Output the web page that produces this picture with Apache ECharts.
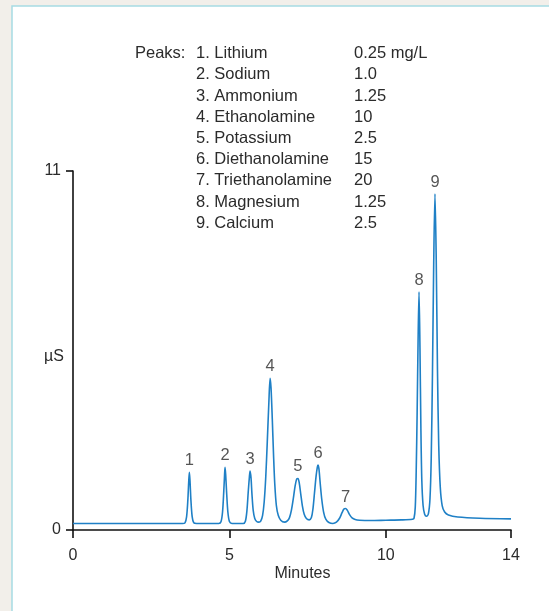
<!DOCTYPE html>
<html>
<head>
<meta charset="utf-8">
<script src="https://cdn.jsdelivr.net/npm/echarts@6/dist/echarts.min.js"></script>
<style>
html,body{margin:0;padding:0;background:#f2efea;}
#c{width:549px;height:611px;}
</style>
</head>
<body>
<div id="c"></div>
<script>
// ---- data ----
const xTicksMax = 14;            // minutes
const yMax = 11;                 // µS
const peakNumbers = ['1','2','3','4','5','6','7','8','9'];
const peakNames = ['Lithium','Sodium','Ammonium','Ethanolamine','Potassium','Diethanolamine','Triethanolamine','Magnesium','Calcium'];
const peakConc = ['0.25 mg/L','1.0','1.25','10','2.5','15','20','1.25','2.5'];
const peakTimes = [3.72, 4.86, 5.66, 6.30, 7.19, 7.83, 8.71, 11.06, 11.57];
const peakHeights = [1.77, 1.92, 1.81, 4.65, 1.58, 1.99, 0.66, 7.30, 10.3];
// chromatogram trace [minutes, µS]
const trace = [
 [0,0.2],[3.5,0.2],
 [3.58,0.22],[3.63,0.4],[3.67,0.9],[3.70,1.5],[3.72,1.77],[3.74,1.5],[3.77,0.9],[3.81,0.4],[3.86,0.22],[3.95,0.2],
 [4.66,0.2],[4.73,0.25],[4.78,0.55],[4.82,1.2],[4.845,1.7],[4.86,1.92],[4.88,1.7],[4.91,1.15],[4.95,0.55],[5.0,0.26],[5.08,0.2],
 [5.44,0.2],[5.51,0.27],[5.56,0.6],[5.60,1.15],[5.64,1.65],[5.66,1.81],[5.69,1.6],[5.72,1.1],[5.76,0.6],[5.81,0.35],[5.87,0.26],[5.94,0.24],
 [6.0,0.27],[6.06,0.45],[6.11,0.85],[6.16,1.6],[6.21,2.7],[6.26,3.9],[6.30,4.65],[6.33,4.35],[6.37,3.4],[6.41,2.3],[6.45,1.4],[6.50,0.75],[6.56,0.45],[6.64,0.3],[6.76,0.24],
 [6.85,0.28],[6.92,0.38],[6.98,0.6],[7.04,0.95],[7.10,1.35],[7.15,1.56],[7.19,1.58],[7.23,1.45],[7.28,1.1],[7.33,0.75],[7.39,0.48],[7.46,0.35],[7.55,0.31],
 [7.62,0.38],[7.67,0.65],[7.72,1.15],[7.77,1.65],[7.81,1.93],[7.83,1.99],[7.86,1.88],[7.90,1.45],[7.95,0.95],[8.01,0.55],[8.08,0.33],[8.18,0.23],[8.31,0.2],
 [8.42,0.24],[8.52,0.36],[8.60,0.53],[8.66,0.64],[8.71,0.66],[8.77,0.6],[8.84,0.47],[8.92,0.37],[9.02,0.32],[9.16,0.3],
 [9.5,0.29],[10.0,0.3],[10.5,0.31],[10.85,0.33],
 [10.9,0.36],[10.94,0.7],[10.97,1.8],[11.0,3.6],[11.03,5.8],[11.06,7.3],[11.09,5.6],[11.12,3.1],[11.15,1.5],[11.19,0.75],[11.24,0.48],[11.30,0.42],
 [11.36,0.5],[11.41,0.95],[11.45,2.2],[11.49,4.8],[11.53,8.2],[11.57,10.3],[11.61,8.3],[11.65,4.9],[11.69,2.6],[11.74,1.3],[11.80,0.75],[11.88,0.55],[12.0,0.46],[12.3,0.4],[13.0,0.36],[14,0.34]
];

const FONT = 'Liberation Sans, Arial, sans-serif';
const TXT = '#2b2b2b';

const chart = echarts.init(document.getElementById('c'), null, {renderer:'canvas'});

const peakLines = peakNames.map((n,i)=>peakNumbers[i]+'. '+n).join('\n');
const concLines = peakConc.join('\n');

chart.setOption({
  animation:false,
  backgroundColor:'transparent',
  graphic:[
    {type:'rect', z:-10, silent:true, shape:{x:12,y:6,width:700,height:800},
     style:{fill:'#ffffff', stroke:'#a6dce4', lineWidth:1.5}},
    {type:'text', left:135, top:43, style:{text:'Peaks:', font:'16.5px '+FONT, fill:TXT, lineHeight:21.2}},
    {type:'text', left:196, top:43, style:{text:peakLines, font:'16.5px '+FONT, fill:TXT, lineHeight:21.2}},
    {type:'text', left:354, top:43, style:{text:concLines, font:'16.5px '+FONT, fill:TXT, lineHeight:21.2}}
  ],
  grid:{left:73, top:171, right:38, bottom:81, containLabel:false},
  xAxis:{
    type:'value', min:0, max:xTicksMax, interval:5,
    name:'Minutes', nameLocation:'middle', nameGap:36, nameMoveOverlap:false,
    nameTextStyle:{fontFamily:FONT, fontSize:16, color:TXT, padding:[0,0,0,21]},
    axisLine:{show:true, lineStyle:{color:'#111', width:1.6}},
    axisTick:{show:true, length:8, lineStyle:{color:'#111', width:1.6}},
    axisLabel:{fontFamily:FONT, fontSize:16, color:TXT, margin:18, showMaxLabel:true, showMinLabel:true},
    splitLine:{show:false}
  },
  yAxis:{
    type:'value', min:0, max:yMax, interval:yMax,
    name:'µS', nameLocation:'middle', nameRotate:0, nameGap:9, nameMoveOverlap:false,
    nameTextStyle:{fontFamily:FONT, fontSize:16, color:TXT, verticalAlign:'top', lineHeight:12},
    axisLine:{show:true, lineStyle:{color:'#111', width:1.6}},
    axisTick:{show:true, length:7, lineStyle:{color:'#111', width:1.6}},
    axisLabel:{fontFamily:FONT, fontSize:16, color:TXT, margin:12},
    splitLine:{show:false}
  },
  series:[
    {type:'line', data:trace, showSymbol:false, smooth:0.3, clip:false,
     lineStyle:{color:'#1f80c6', width:1.6}, z:3},
    {type:'scatter', data:peakTimes.map((t,i)=>[t,peakHeights[i]]), symbolSize:0, z:4,
     label:{show:true, position:'top', distance:3, fontFamily:FONT, fontSize:16.5, color:TXT,
            formatter:p=>peakNumbers[p.dataIndex]}}
  ]
});
</script>
</body>
</html>
